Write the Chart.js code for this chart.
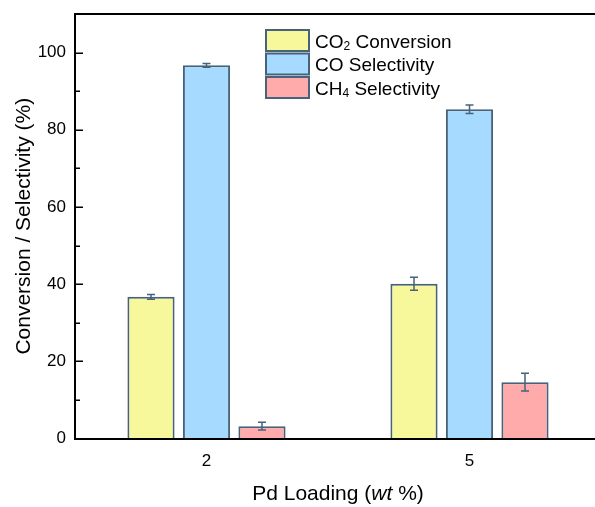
<!DOCTYPE html>
<html>
<head>
<meta charset="utf-8">
<script src="https://cdn.jsdelivr.net/npm/chart.js@4.4.0/dist/chart.umd.min.js"></script>
<style>
  html, body { margin: 0; padding: 0; background: #fff; overflow: hidden; }
  #wrap { width: 602px; height: 507px; }
</style>
</head>
<body>
<div id="wrap"><canvas id="chart" width="602" height="507"></canvas></div>
<script>
// values
const categories = ['2', '5'];
const co2Conversion = [36.7, 40.1];
const co2ConversionErr = [0.6, 1.7];
const coSelectivity = [96.7, 85.3];
const coSelectivityErr = [0.5, 1.1];
const ch4Selectivity = [3.2, 14.6];
const ch4SelectivityErr = [1.0, 2.3];
const seriesNames = ['CO₂ Conversion', 'CO Selectivity', 'CH₄ Selectivity'];

const FONT = '"Liberation Sans", Arial, Helvetica, sans-serif';
const EDGE = '#47627b';

// error bars drawn through the y scale
const errorBars = {
  id: 'errorBars',
  afterDatasetsDraw(chart) {
    const ctx = chart.ctx;
    const y = chart.scales.y;
    chart.data.datasets.forEach((ds, i) => {
      const meta = chart.getDatasetMeta(i);
      meta.data.forEach((bar, j) => {
        const v = ds.data[j], e = ds.errors[j];
        const yTop = y.getPixelForValue(v + e);
        const yBot = y.getPixelForValue(v - e);
        ctx.save();
        ctx.strokeStyle = EDGE;
        ctx.lineWidth = 1.5;
        ctx.beginPath();
        ctx.moveTo(bar.x, yTop); ctx.lineTo(bar.x, yBot);
        ctx.moveTo(bar.x - 4, yTop); ctx.lineTo(bar.x + 4, yTop);
        ctx.moveTo(bar.x - 4, yBot); ctx.lineTo(bar.x + 4, yBot);
        ctx.stroke();
        ctx.restore();
      });
    });
  }
};

// draws text where ₂ / ₄ become small lowered digits
function drawRich(ctx, text, x, y, size) {
  const subs = { '₂': '2', '₄': '4' };
  let cx = x;
  for (const ch of text) {
    if (subs[ch]) {
      ctx.font = Math.round(size * 0.62) + 'px ' + FONT;
      ctx.fillText(subs[ch], cx, y + 2);
      cx += ctx.measureText(subs[ch]).width;
    } else {
      ctx.font = size + 'px ' + FONT;
      ctx.fillText(ch, cx, y);
      cx += ctx.measureText(ch).width;
    }
  }
}

const decorations = {
  id: 'decorations',
  afterDraw(chart) {
    const ctx = chart.ctx;
    const a = chart.chartArea;
    const yScale = chart.scales.y;
    ctx.save();

    // inward y ticks (major every 20, minor in between)
    ctx.strokeStyle = '#000';
    ctx.lineWidth = 1.5;
    ctx.beginPath();
    yScale.ticks.forEach(t => {
      const py = Math.round(yScale.getPixelForValue(t.value)) + 0.25;
      const len = t.value % 20 === 0 ? 8 : 5;
      ctx.moveTo(a.left, py);
      ctx.lineTo(a.left + len, py);
    });
    ctx.stroke();

    // top frame line
    ctx.lineWidth = 2;
    ctx.beginPath();
    ctx.moveTo(a.left - 1, a.top);
    ctx.lineTo(a.right, a.top);
    ctx.stroke();

    ctx.fillStyle = '#000';
    ctx.textBaseline = 'alphabetic';

    // y title
    ctx.save();
    ctx.translate(30, (a.top + a.bottom) / 2);
    ctx.rotate(-Math.PI / 2);
    ctx.font = '21px ' + FONT;
    ctx.textAlign = 'center';
    ctx.fillText('Conversion / Selectivity (%)', 0, 0);
    ctx.restore();

    // x title with italic "wt"
    const parts = [['Pd Loading (', ''], ['wt', 'italic '], [' %)', '']];
    let total = 0;
    parts.forEach(p => { ctx.font = p[1] + '21px ' + FONT; total += ctx.measureText(p[0]).width; });
    let x = (a.left + a.right) / 2 - total / 2;
    ctx.textAlign = 'left';
    parts.forEach(p => {
      ctx.font = p[1] + '21px ' + FONT;
      ctx.fillText(p[0], x, 500);
      x += ctx.measureText(p[0]).width;
    });

    // legend
    chart.data.datasets.forEach((ds, i) => {
      const top = 30 + i * 23.5;
      ctx.fillStyle = ds.backgroundColor;
      ctx.fillRect(266, top, 43, 21);
      ctx.strokeStyle = EDGE;
      ctx.lineWidth = 2;
      ctx.strokeRect(266, top, 43, 21);
      ctx.fillStyle = '#000';
      drawRich(ctx, ds.label, 315, top + 17.5, 19);
    });

    ctx.restore();
  }
};

new Chart(document.getElementById('chart'), {
  type: 'bar',
  data: {
    labels: categories,
    datasets: [
      { label: seriesNames[0], data: co2Conversion, errors: co2ConversionErr, backgroundColor: '#f7f89c' },
      { label: seriesNames[1], data: coSelectivity, errors: coSelectivityErr, backgroundColor: '#a6dbff' },
      { label: seriesNames[2], data: ch4Selectivity, errors: ch4SelectivityErr, backgroundColor: '#ffaaab' }
    ].map(d => Object.assign(d, { borderColor: EDGE, borderWidth: 2 }))
  },
  options: {
    responsive: false,
    animation: false,
    categoryPercentage: 0.633,
    barPercentage: 0.85,
    layout: { padding: { top: 14, right: 1, bottom: 0, left: 0 } },
    plugins: { legend: { display: false }, tooltip: { enabled: false } },
    scales: {
      x: {
        grid: { display: false },
        border: { display: true, color: '#000', width: 2 },
        ticks: { color: '#000', font: { family: FONT, size: 17 }, padding: 5 },
        afterFit(scale) {
          scale.height = 68.5;
          scale.paddingLeft = 0;
          scale.paddingRight = 0;
        }
      },
      y: {
        min: 0,
        max: 110,
        grid: { drawOnChartArea: false, drawTicks: false },
        border: { display: true, color: '#000', width: 2 },
        ticks: {
          stepSize: 10,
          color: '#000',
          font: { family: FONT, size: 17 },
          padding: 9,
          callback: v => (v % 20 === 0 && v <= 100) ? v : ''
        },
        afterFit(scale) {
          scale.width = 75;
          scale.paddingTop = 0;
          scale.paddingBottom = 0;
        }
      }
    }
  },
  plugins: [errorBars, decorations]
});
</script>
</body>
</html>
